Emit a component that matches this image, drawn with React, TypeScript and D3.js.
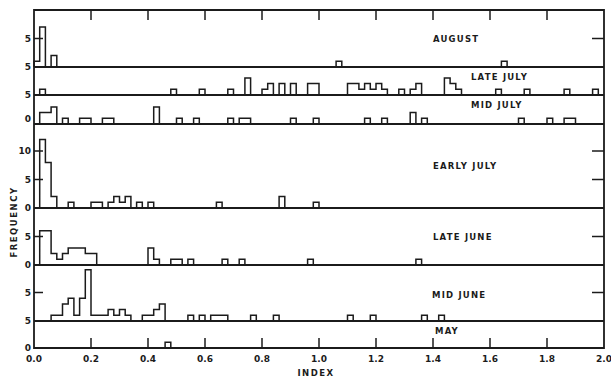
import React from "react";
import * as d3 from "d3";

// ---- data: [bin start, frequency] for non-empty 0.02-wide bins ----
const BIN = 0.02;
const august: [number, number][] = [[0.0, 1], [0.02, 7], [0.06, 2], [1.06, 1], [1.64, 1]];
const lateJuly: [number, number][] = [
  [0.02, 1], [0.48, 1], [0.58, 1], [0.68, 1], [0.74, 3], [0.8, 1], [0.82, 2], [0.86, 2], [0.9, 2],
  [0.96, 2], [0.98, 2], [1.1, 2], [1.12, 2], [1.14, 1], [1.16, 2], [1.18, 1], [1.2, 2], [1.22, 1],
  [1.28, 1], [1.32, 1], [1.34, 2], [1.44, 3], [1.46, 2], [1.48, 1], [1.62, 1], [1.72, 1], [1.86, 1], [1.96, 1],
];
const midJuly: [number, number][] = [
  [0.02, 2], [0.04, 2], [0.06, 3], [0.1, 1], [0.16, 1], [0.18, 1], [0.24, 1], [0.26, 1], [0.42, 3],
  [0.5, 1], [0.56, 1], [0.68, 1], [0.72, 1], [0.74, 1], [0.9, 1], [0.98, 1], [1.16, 1], [1.22, 1],
  [1.32, 2], [1.36, 1], [1.7, 1], [1.8, 1], [1.86, 1], [1.88, 1],
];
const earlyJuly: [number, number][] = [
  [0.02, 12], [0.04, 8], [0.06, 2], [0.12, 1], [0.2, 1], [0.22, 1], [0.26, 1], [0.28, 2], [0.3, 1],
  [0.32, 2], [0.36, 1], [0.4, 1], [0.64, 1], [0.86, 2], [0.98, 1],
];
const lateJune: [number, number][] = [
  [0.02, 6], [0.04, 6], [0.06, 2], [0.08, 1], [0.1, 2], [0.12, 3], [0.14, 3], [0.16, 3], [0.18, 2],
  [0.2, 2], [0.4, 3], [0.42, 1], [0.48, 1], [0.5, 1], [0.54, 1], [0.66, 1], [0.72, 1], [0.96, 1], [1.34, 1],
];
const midJune: [number, number][] = [
  [0.06, 1], [0.08, 1], [0.1, 3], [0.12, 4], [0.14, 1], [0.16, 4], [0.18, 9], [0.2, 1], [0.22, 1],
  [0.24, 1], [0.26, 2], [0.28, 1], [0.3, 2], [0.32, 1], [0.38, 1], [0.4, 1], [0.42, 2], [0.44, 3],
  [0.54, 1], [0.58, 1], [0.62, 1], [0.64, 1], [0.66, 1], [0.76, 1], [0.84, 1], [1.1, 1], [1.18, 1],
  [1.36, 1], [1.42, 1],
];
const may: [number, number][] = [[0.46, 1]];

const panelNames = ["AUGUST", "LATE JULY", "MID JULY", "EARLY JULY", "LATE JUNE", "MID JUNE", "MAY"];
const panelData = [august, lateJuly, midJuly, earlyJuly, lateJune, midJune, may];
const xTicks = [0, 0.2, 0.4, 0.6, 0.8, 1.0, 1.2, 1.4, 1.6, 1.8, 2.0];
const xTickLabels = ["0.0", "0.2", "0.4", "0.6", "0.8", "1.0", "1.2", "1.4", "1.6", "1.8", "2.0"];
// y tick labels per panel: [value, label]
const panelYTicks: [number, string][][] = [
  [[5, "5"], [0, "5"]],
  [[0, "5"]],
  [[1, "0"]],
  [[10, "10"], [5, "5"], [0, "0"]],
  [[5, "5"], [0, "0"]],
  [[5, "5"], [0, "5"]],
  [[0, "0"]],
];
const panelMinorTicks: number[][] = [[5], [], [], [10, 5], [5], [5], []];

// ---- layout ----
const W = 611, H = 377;
const left = 34, right = 604, top = 10, bottom = 348;
const baselines = [67, 95, 124, 208, 265, 321, 348];
const labelPos: [number, number][] = [[433, 42], [471, 80], [471, 108], [433, 169], [433, 239.5], [432, 297.5], [435, 334]];
const UNIT = 5.7;
const ink = "#1b1b1b";

const x = d3.scaleLinear().domain([0, 2]).range([left, right]);

function runsOf(data: [number, number][]) {
  const sorted = [...data].sort((a, b) => a[0] - b[0]);
  const runs: [number, number][][] = [];
  sorted.forEach((d) => {
    const last = runs[runs.length - 1];
    if (last && Math.abs(d[0] - (last[last.length - 1][0] + BIN)) < 1e-6) last.push(d);
    else runs.push([d]);
  });
  return runs;
}

const line = d3.line<[number, number]>().x((d) => d[0]).y((d) => d[1]);

export default function App() {
  return (
    <svg width={W} height={H} style={{ position: "absolute", left: 0, top: 0, background: "#fff" }}
      fontFamily="'DejaVu Sans', sans-serif" fontWeight="bold">
      {/* frame */}
      <path d={`M${left},${top}H${right}V${bottom}H${left}Z`} fill="none" stroke={ink} strokeWidth={1.8} />
      {baselines.slice(0, 6).map((b, i) => (
        <line key={"sep" + i} x1={left} x2={right} y1={b} y2={b} stroke={ink} strokeWidth={1.8} />
      ))}
      {/* top & bottom ticks */}
      {xTicks.slice(1, -1).map((t, i) => (
        <g key={"xt" + i}>
          <line x1={x(t)} x2={x(t)} y1={top} y2={top + 10} stroke={ink} strokeWidth={1.5} />
          <line x1={x(t)} x2={x(t)} y1={bottom} y2={bottom - 10} stroke={ink} strokeWidth={1.5} />
        </g>
      ))}
      {xTicks.map((t, i) => (
        <text key={"xl" + i} x={x(t)} y={362} fontSize={9} textAnchor="middle" fill={ink}>{xTickLabels[i]}</text>
      ))}
      <text x={316} y={376} fontSize={8.5} textAnchor="middle" letterSpacing={1.5} fill={ink}>INDEX</text>
      <text transform="translate(17,222) rotate(-90)" fontSize={8.5} textAnchor="middle" letterSpacing={1.5} fill={ink}>FREQUENCY</text>

      {panelData.map((data, pi) => {
        const base = baselines[pi];
        const y = d3.scaleLinear().domain([0, 1]).range([base, base - UNIT]);
        const runs = runsOf(data);
        return (
          <g key={"p" + pi}>
            {runs.map((run, ri) => {
              const pts: [number, number][] = [[x(run[0][0]), base]];
              run.forEach(([b, c]) => {
                pts.push([x(b), y(c)]);
                pts.push([x(b + BIN), y(c)]);
              });
              pts.push([x(run[run.length - 1][0] + BIN), base]);
              return <path key={ri} d={line(pts) || ""} fill="none" stroke={ink} strokeWidth={1.5} strokeLinejoin="miter" />;
            })}
            {panelYTicks[pi].map(([v, lab], ti) => (
              <text key={"yl" + ti} x={31} y={y(v) + 3.3} fontSize={9} textAnchor="end" fill={ink}>{lab}</text>
            ))}
            {panelMinorTicks[pi].map((v, ti) => (
              <g key={"mt" + ti}>
                <line x1={left} x2={left + 9} y1={y(v)} y2={y(v)} stroke={ink} strokeWidth={1.5} />
                <line x1={right} x2={right - 12} y1={y(v)} y2={y(v)} stroke={ink} strokeWidth={1.5} />
              </g>
            ))}
            <text x={labelPos[pi][0]} y={labelPos[pi][1]} fontSize={8.5} letterSpacing={1.2} fill={ink}>{panelNames[pi]}</text>
          </g>
        );
      })}
    </svg>
  );
}
